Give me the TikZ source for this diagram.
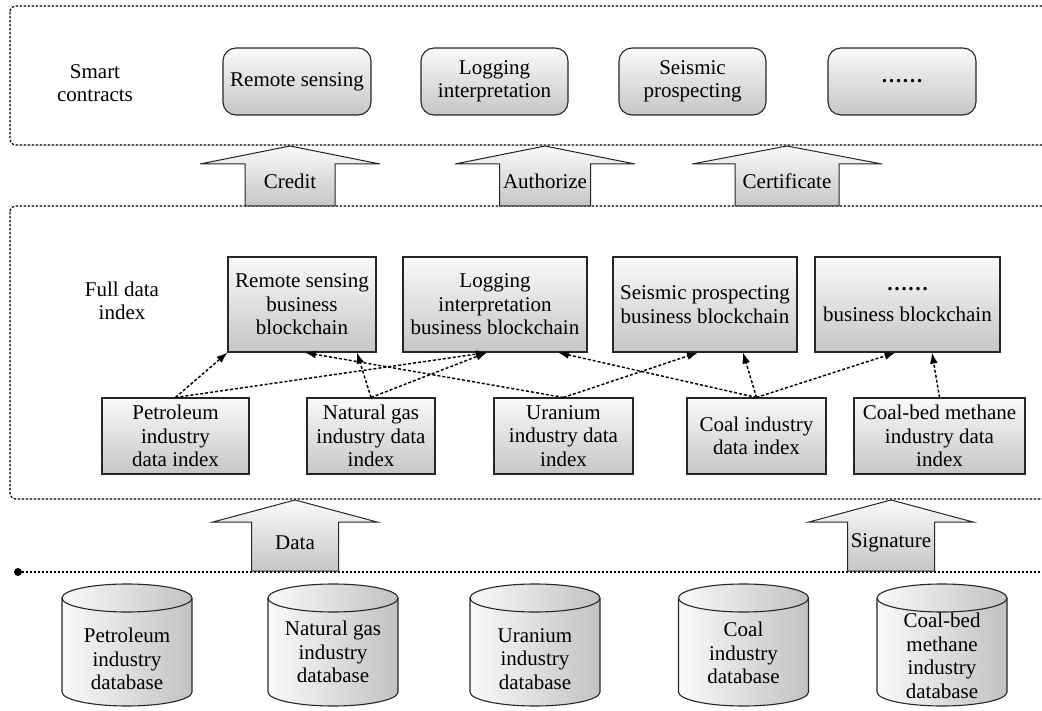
\documentclass[tikz,border=0pt]{standalone}
\usepackage{fontspec}
\setmainfont{Liberation Serif}
\usetikzlibrary{arrows.meta,calc}
\newcommand\myarrow[9]{%
  \path[shadebox, line width=1pt] (#2,-#3) -- (#2+#6,-#4) -- (#2+#7,-#4) -- (#2+#7,-#5) -- (#2-#7,-#5) -- (#2-#7,-#4) -- (#2-#6,-#4) -- cycle;
  \node (#1) at (#2,-#9) {#8};}
\newcommand\dbcyl[4]{%
  \path[draw=black!85, line width=1.1pt, left color=gray!4, right color=gray!48]
    (#2-65,-598) -- (#2-65,-692) arc[start angle=180,end angle=360,x radius=65,y radius=14]
    -- (#2+65,-598) arc[start angle=0,end angle=180,x radius=65,y radius=14] -- cycle;
  \draw[line width=1.1pt, draw=black!85] (#2-65,-598) arc[start angle=180,end angle=360,x radius=65,y radius=14];
  \node (#1) at (#2,-#3) {#4};}
\begin{document}
\begin{tikzpicture}[x=1pt,y=1pt,
  every node/.style={font=\fontsize{21}{23.5}\selectfont, align=center, inner sep=2pt},
  frame/.style={draw=black, line width=1.2pt, dash pattern=on 2.4pt off 1.6pt, rounded corners=6pt},
  shadebox/.style={draw=black!85, line width=1.1pt, top color=gray!4, bottom color=gray!45},
  scbox/.style={shadebox, rounded corners=13pt, minimum height=67pt},
  bcbox/.style={shadebox, minimum height=95pt},
  idxbox/.style={shadebox, minimum height=76pt},
  link/.style={line width=1.45pt, dash pattern=on 3pt off 2pt, -{Latex[length=11pt,width=8pt]}}
]
\useasboundingbox (0,0) rectangle (1042,-711);

% frames
\draw[frame] (10,-6) rectangle (1070,-145);
\draw[frame] (10,-206) rectangle (1070,-499);
\draw[line width=1.2pt, dash pattern=on 2.4pt off 1.6pt] (18,-572) -- (1060,-572);
\fill (18,-572) circle (4);

% smart contracts layer
\node (sclabel) at (95,-83) {Smart\\contracts};
\node[scbox, minimum width=148pt] (scrs) at (297,-81.5) {Remote sensing};
\node[scbox, minimum width=147pt] (sclog) at (494.5,-81.5) {Logging\\interpretation};
\node[scbox, minimum width=147pt] (scseis) at (692.5,-81.5) {Seismic\\prospecting};
\node[scbox, minimum width=148pt] (scdots) at (902,-81.5) {\textbf{……}};

% upward arrows
\myarrow{credit}{290}{146}{164}{206}{90}{45}{Credit}{181}
\myarrow{authorize}{545}{146}{164}{206}{90}{45.5}{Authorize}{181}
\myarrow{certificate}{787}{146}{164}{206}{95}{52}{Certificate}{181}
\myarrow{data}{295}{500}{522}{571}{82}{43.5}{Data}{543}
\myarrow{signature}{891}{500}{522}{571}{82}{43.5}{Signature}{543}

% full data index layer
\node (fdlabel) at (122,-301) {Full data\\index};
\node[bcbox, minimum width=148pt] (rsb) at (302,-304.5) {Remote sensing\\business\\blockchain};
\node[bcbox, minimum width=184pt] (lbc) at (495,-304.5) {Logging\\interpretation\\business blockchain};
\node[bcbox, minimum width=184pt] (sbc) at (705,-304.5) {Seismic prospecting\\business blockchain};
\node[bcbox, minimum width=185pt] (dbc) at (907.5,-304.5) {\textbf{……}\\[7pt]business blockchain};

\node[idxbox, minimum width=147pt] (pidx) at (175.5,-436) {Petroleum\\industry\\data index};
\node[idxbox, minimum width=128pt] (ngidx) at (371,-436) {Natural gas\\industry data\\index};
\node[idxbox, minimum width=139pt] (uidx) at (563.5,-436) {Uranium\\industry data\\index};
\node[idxbox, minimum width=139pt] (cidx) at (756.5,-436) {Coal industry\\data index};
\node[idxbox, minimum width=171pt] (cbidx) at (939.5,-436) {Coal-bed methane\\industry data\\index};

% links
\draw[link] (pidx.north) -- (rsb.south west);
\draw[link] (pidx.north) -- ([xshift=-8pt]lbc.south);
\draw[link] (ngidx.north) -- ([xshift=55pt]rsb.south);
\draw[link] (ngidx.north) -- ([xshift=-8pt]lbc.south);
\draw[link] (uidx.north) -- ([xshift=3pt]rsb.south);
\draw[link] (uidx.north) -- ([xshift=-7pt]sbc.south);
\draw[link] (cidx.north) -- ([xshift=63pt]lbc.south);
\draw[link] (cidx.north) -- ([xshift=38pt]sbc.south);
\draw[link] (cidx.north) -- ([xshift=-12pt]dbc.south);
\draw[link] (cbidx.north) -- ([xshift=24.5pt]dbc.south);

% databases
\dbcyl{pdb}{127}{659}{Petroleum\\industry\\database}
\dbcyl{ngdb}{333}{652}{Natural gas\\industry\\database}
\dbcyl{udb}{535}{659}{Uranium\\industry\\database}
\dbcyl{cdb}{743.5}{653}{Coal\\industry\\database}
\dbcyl{cbdb}{942}{656}{Coal-bed\\methane\\industry\\database}
\end{tikzpicture}
\end{document}
